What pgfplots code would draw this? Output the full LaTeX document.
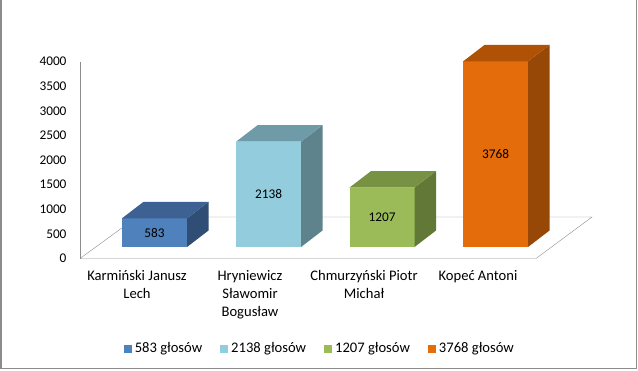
\documentclass[border=0pt]{standalone}
\usepackage{pgfplots}
\pgfplotsset{compat=1.18}
\usepackage{fontspec}
\setmainfont{Carlito}
\definecolor{fa}{HTML}{4F81BD}\definecolor{ta}{HTML}{3C6192}\definecolor{sa}{HTML}{2F4D75}
\definecolor{fb}{HTML}{93CDDD}\definecolor{tb}{HTML}{6F9BA8}\definecolor{sb}{HTML}{5F838D}
\definecolor{fc}{HTML}{9BBB59}\definecolor{tc}{HTML}{779243}\definecolor{sc}{HTML}{627837}
\definecolor{fd}{HTML}{E46C0A}\definecolor{td}{HTML}{B05205}\definecolor{sd}{HTML}{974706}
\definecolor{lg}{HTML}{8C8C8C}
% #1 centre, #2 value, #3 front, #4 top, #5 side
\newcommand{\cube}[5]{%
 \addplot[fill=#3,draw=none,mark=none,legend image code/.code={\fill[#3] (0bp,-4bp) rectangle (8bp,4bp);}]
   table[row sep=\\, x expr=#1+\thisrow{a}*32.5, y expr=\thisrow{h}*#2+233] {a h\\ -1 0\\ 1 0\\ 1 1\\ -1 1\\};
 \addplot[fill=#5,draw=none,mark=none,forget plot]
   table[row sep=\\, x expr=#1+32.5+\thisrow{d}*21.5, y expr=\thisrow{h}*#2+233+\thisrow{d}*335] {h d\\ 0 0\\ 0 1\\ 1 1\\ 1 0\\};
 \addplot[fill=#4,draw=none,mark=none,forget plot]
   table[row sep=\\, x expr=#1+\thisrow{a}*32.5+\thisrow{d}*21.5, y expr=#2+233+\thisrow{d}*335] {a d\\ -1 0\\ 1 0\\ 1 1\\ -1 1\\};
}
\begin{document}
\begin{tikzpicture}[font=\fontsize{13.3bp}{18bp}\selectfont]
\begin{axis}[name=ax,
  scale only axis, width=456bp, height=197bp,
  xmin=80, xmax=536, ymin=0, ymax=4000,
  clip=false, axis line style={draw=none}, tick style={draw=none},
  major tick length=0,
  ytick={0,500,...,4000},
  /pgf/number format/1000 sep={},
  /pgf/number format/assume math mode=true,
  yticklabel style={anchor=east, xshift=-10bp},
  xtick={137,250,364,478},
  xticklabels={{Karmiński Janusz\\Lech},{Hryniewicz\\Sławomir\\Bogusław},{Chmurzyński Piotr\\Michał},{Kopeć Antoni}},
  xticklabel style={align=center, anchor=north, yshift=-8bp, font=\fontsize{14.6bp}{18bp}\selectfont},
  legend columns=4,
  legend style={at={(0.527,-0.457)}, anchor=center, draw=none, fill=none,
    font=\fontsize{14.6bp}{18bp}\selectfont,
    inner sep=0pt, nodes={inner xsep=3bp, inner ysep=1bp, anchor=west},
    /tikz/every even column/.append style={column sep=15bp}},
]
\addplot[lg, mark=none, forget plot] coordinates {(80,0) (536,0) (592,843) (137,843) (80,0)};
\addplot[lg, mark=none, forget plot] coordinates {(80,0) (80,4000)};
\cube{154.5}{583}{fa}{ta}{sa}
\cube{268.5}{2138}{fb}{tb}{sb}
\cube{382}{1207}{fc}{tc}{sc}
\cube{495.5}{3768}{fd}{td}{sd}
\addplot[draw=none, mark=none, forget plot, point meta=explicit,
  nodes near coords, nodes near coords align=center,
  every node near coord/.append style={text=black, /pgf/number format/assume math mode=true}]
  table[x=c, y expr=\thisrow{v}/2+233, meta=v] {
c v
154.5 583
268.5 2138
382 1207
495.5 3768
};
\legend{583 głosów, 2138 głosów, 1207 głosów, 3768 głosów}
\end{axis}
\useasboundingbox ([shift={(-80bp,-112.5bp)}]ax.south west) rectangle ++(638bp,371bp);
\draw[lg, line width=1.5bp] ([shift={(-79bp,258.5bp)}]ax.south west) -- ++(0,-368.5bp) -- ++(635.5bp,0) -- ++(0,368.5bp);
\end{tikzpicture}
\end{document}
